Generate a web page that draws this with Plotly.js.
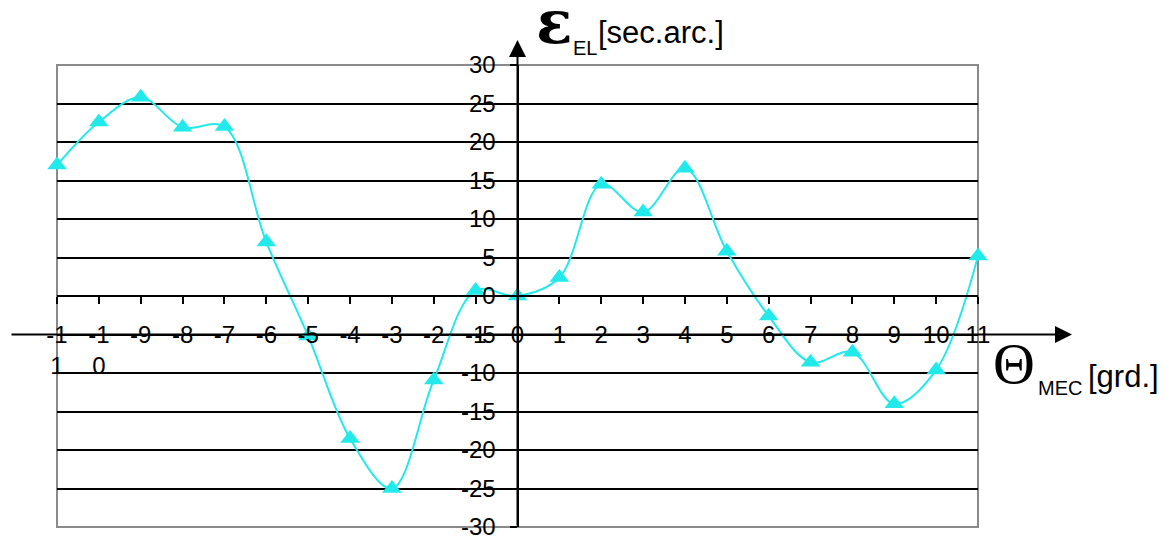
<!DOCTYPE html>
<html>
<head>
<meta charset="utf-8">
<script src="https://cdn.plot.ly/plotly-3.0.1.min.js"></script>
<style>
html,body{margin:0;padding:0;background:#fff;}
#chart{width:1165px;height:539px;}
</style>
</head>
<body>
<div id="chart"></div>
<script>
// Mechanical angle (grd.)
const thetaMec = [-11, -10, -9, -8, -7, -6, -5, -4, -3, -2, -1, 0, 1, 2, 3, 4, 5, 6, 7, 8, 9, 10, 11];
// Electrical error (sec.arc.)
const epsEl = [17, 22.6, 25.8, 21.9, 22, 7, -5.2, -18.5, -25, -10.9, 0.7, 0, 2.4, 14.5, 10.9, 16.6, 5.8, -2.6, -8.6, -7.3, -14, -9.6, 5.2];
// X tick labels (wrapped as in the original)
const xTickText = ['-1<br>1', '-1<br>0', '-9', '-8', '-7', '-6', '-5', '-4', '-3', '-2', '-1', '0', '1', '2', '3', '4', '5', '6', '7', '8', '9', '10', '11'];
// Y ticks
const yTickVals = [-30, -25, -20, -15, -10, -5, 0, 5, 10, 15, 20, 25, 30];
const yTickText = ['-30', '-25', '-20', '-15', '-10', '-5', '0', '5', '10', '15', '20', '25', '30'];

const CYAN = '#22eaea';
const SANS = 'Liberation Sans, Arial, sans-serif';
const SERIF = 'Liberation Serif, Times New Roman, serif';

// pixel helpers for decorations (plot box: l=57, r=978, t=65, b=527)
const L = 57, R = 978, T = 65, B = 527;
const px = v => (v - L) / (R - L);
const py = v => (B - v) / (B - T);

const trace = {
  x: thetaMec,
  y: epsEl,
  type: 'scatter',
  mode: 'lines+markers',
  line: {color: CYAN, width: 2, shape: 'spline', smoothing: 1},
  marker: {symbol: 'triangle-up', size: 17, color: CYAN},
  cliponaxis: false,
  hoverinfo: 'skip'
};

const layout = {
  width: 1165,
  height: 539,
  margin: {l: L, r: 1165 - R, t: T, b: 539 - B, pad: 0},
  paper_bgcolor: '#ffffff',
  plot_bgcolor: '#ffffff',
  showlegend: false,
  font: {family: SANS, size: 24, color: '#000'},
  xaxis: {
    range: [-11, 11],
    anchor: 'free',
    position: 0.5,
    tickvals: thetaMec,
    ticktext: xTickText,
    tickangle: 0,
    ticks: 'outside',
    ticklen: 7,
    tickwidth: 2,
    tickcolor: '#000',
    ticklabelstandoff: 10,
    ticklabeloverflow: 'allow',
    showline: true,
    linecolor: '#000',
    linewidth: 2,
    showgrid: false,
    zeroline: false,
    tickfont: {family: SANS, size: 24, color: '#000'}
  },
  yaxis: {
    range: [-30, 30],
    anchor: 'free',
    position: 0.5,
    tickvals: yTickVals,
    ticktext: yTickText,
    ticks: 'outside',
    ticklen: 7,
    tickwidth: 2,
    tickcolor: '#000',
    ticklabelstandoff: 9,
    ticklabeloverflow: 'allow',
    showline: true,
    linecolor: '#000',
    linewidth: 2,
    showgrid: true,
    gridcolor: '#000',
    gridwidth: 2,
    zeroline: false,
    tickfont: {family: SANS, size: 24, color: '#000'}
  },
  shapes: [
    {type: 'rect', xref: 'paper', yref: 'paper', x0: 0, x1: 1, y0: 0, y1: 1,
     line: {color: '#8a8a8a', width: 2}, layer: 'between'}
  ],
  annotations: [
    // horizontal axis arrow (drawn along y = -5)
    {xref: 'paper', yref: 'y', x: px(1072), y: -5, ax: -1062, ay: 0, axref: 'pixel', ayref: 'pixel',
     text: '', showarrow: true, arrowhead: 2, arrowsize: 1.7, arrowwidth: 2, arrowcolor: '#000', standoff: 0, startstandoff: 0},
    // vertical axis arrow
    {xref: 'paper', yref: 'paper', x: 0.5, y: py(40), ax: 0, ay: 487, axref: 'pixel', ayref: 'pixel',
     text: '', showarrow: true, arrowhead: 2, arrowsize: 1.7, arrowwidth: 2, arrowcolor: '#000', standoff: 0, startstandoff: 0},
    // y-axis label
    {xref: 'paper', yref: 'paper', x: px(554), y: py(22), xanchor: 'center', yanchor: 'middle',
     text: '<b>ε</b>', showarrow: false, font: {family: 'DejaVu Serif, serif', size: 60, color: '#000'}},
    {xref: 'paper', yref: 'paper', x: px(571), y: py(48), xanchor: 'left', yanchor: 'middle',
     text: 'EL', showarrow: false, font: {family: SANS, size: 20, color: '#000'}},
    {xref: 'paper', yref: 'paper', x: px(596), y: py(33), xanchor: 'left', yanchor: 'middle',
     text: '[sec.arc.]', showarrow: false, font: {family: SANS, size: 31, color: '#000'}},
    // x-axis label
    {xref: 'paper', yref: 'paper', x: px(1014), y: py(363), xanchor: 'center', yanchor: 'middle',
     text: 'Θ', showarrow: false, font: {family: SERIF, size: 58, color: '#000'}},
    {xref: 'paper', yref: 'paper', x: px(1036), y: py(388), xanchor: 'left', yanchor: 'middle',
     text: 'MEC', showarrow: false, font: {family: SANS, size: 20, color: '#000'}},
    {xref: 'paper', yref: 'paper', x: px(1086), y: py(376), xanchor: 'left', yanchor: 'middle',
     text: '[grd.]', showarrow: false, font: {family: SANS, size: 31, color: '#000'}}
  ]
};

Plotly.newPlot('chart', [trace], layout, {staticPlot: true, displayModeBar: false});
</script>
</body>
</html>
